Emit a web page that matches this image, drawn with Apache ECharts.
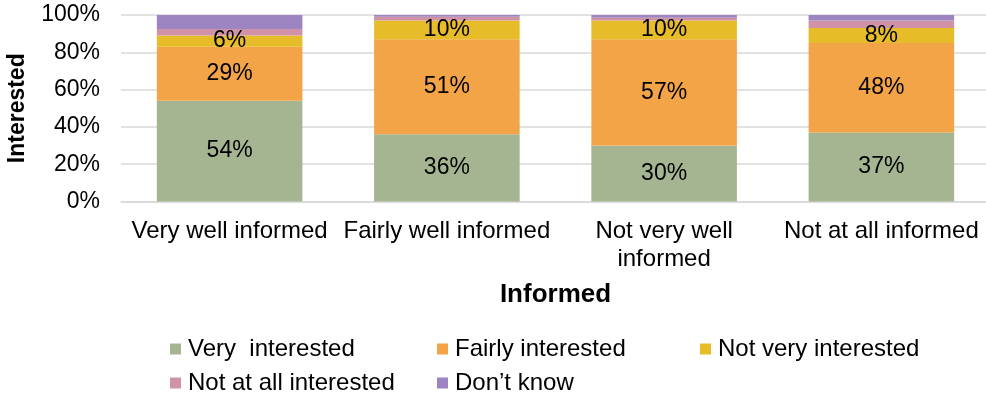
<!DOCTYPE html>
<html><head><meta charset="utf-8">
<script src="https://cdn.jsdelivr.net/npm/echarts@6/dist/echarts.min.js"></script>
<style>html,body{margin:0;padding:0;background:#fff}#c{width:986px;height:399px}</style>
</head><body><div id="c"></div>
<script>
const categories = ['Very well informed', 'Fairly well informed', 'Not very well\ninformed', 'Not at all informed'];
const seriesNames = ['Very  interested', 'Fairly interested', 'Not very interested', 'Not at all interested', 'Don\u2019t know'];
const veryInterested = [54, 36, 30, 37];
const fairlyInterested = [29, 51, 57, 48];
const notVeryInterested = [6, 10, 10, 8];
const notAtAllInterested = [3.5, 2, 1.5, 4];
const dontKnow = [7.5, 1, 1.5, 3];
const yTicks = [0, 20, 40, 60, 80, 100];

const colors = ['#A5B592', '#F3A447', '#E7BC29', '#D092A7', '#9C85C0'];
const values = [veryInterested, fairlyInterested, notVeryInterested, notAtAllInterested, dontKnow];
const font = 'Liberation Sans, Arial, sans-serif';

const series = values.map((v, i) => ({
  name: seriesNames[i], type: 'bar', stack: 'a', data: v,
  barCategoryGap: '33%',
  itemStyle: { color: colors[i] },
  label: {
    show: i < 3, position: 'inside', color: '#000', fontSize: 23, fontFamily: font,
    formatter: p => Math.round(p.value) + '%'
  }
}));

const legendPos = [[165, 332], [432, 332], [695, 332], [165, 366], [432, 366]];
const legends = seriesNames.map((n, i) => ({
  data: [n], left: legendPos[i][0], top: legendPos[i][1],
  itemWidth: 11, itemHeight: 11, itemGap: 0, icon: 'rect',
  textStyle: { fontSize: 24, fontFamily: font, color: '#000', padding: [0, 0, 0, 2] }
}));

const chart = echarts.init(document.getElementById('c'));
chart.setOption({
  animation: false,
  color: colors,
  grid: { left: 121, right: -4, top: 15, height: 186.5, containLabel: false, outerBoundsMode: 'none' },
  legend: legends,
  xAxis: {
    type: 'category', data: categories,
    name: 'Informed', nameLocation: 'middle', nameGap: 80,
    nameTextStyle: { fontSize: 26, fontWeight: 'bold', fontFamily: font, color: '#000' },
    axisLine: { lineStyle: { color: '#D9D9D9', width: 1.5 } },
    axisTick: { show: false },
    axisLabel: { fontSize: 24, fontFamily: font, color: '#000', margin: 16, lineHeight: 28, interval: 0 }
  },
  yAxis: {
    type: 'value', min: 0, max: 100, interval: 20,
    name: 'Interested', nameLocation: 'middle', nameGap: 92, nameRotate: 90,
    nameTextStyle: { fontSize: 23, fontWeight: 'bold', fontFamily: font, color: '#000' },
    axisLabel: { fontSize: 23, fontFamily: font, color: '#000', margin: 21,
      formatter: v => yTicks.includes(v) ? v + '%' : '' },
    splitLine: { lineStyle: { color: '#D9D9D9', width: 1.5 } },
    axisLine: { show: false }, axisTick: { show: false }
  },
  series: series
});
</script></body></html>
